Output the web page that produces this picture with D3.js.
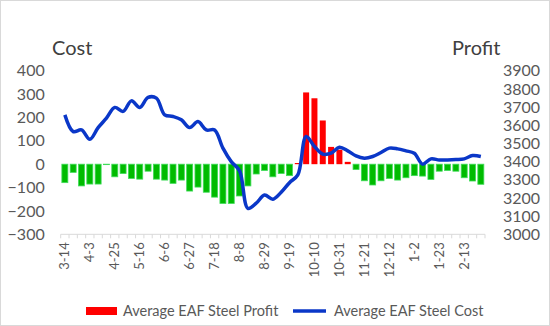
<!DOCTYPE html>
<html lang="en">

<head>
  <meta charset="UTF-8">
  <title>EAF Steel Profit and Cost</title>
  <script src="https://d3js.org/d3.v7.min.js"></script>
  <style>
    body {
      margin: 0;
      background: #fff;
    }

    text {
      font-family: Lato, "Open Sans", sans-serif;
    }

    .tick text {
      fill: #595959;
    }
  </style>
</head>

<body>

  <script>
    // weekly dates (only every third one is labelled)
    const dates = ["3-14", "3-21", "3-28", "4-3", "4-11", "4-18", "4-25", "5-2", "5-9", "5-16",
      "5-23", "5-30", "6-6", "6-13", "6-20", "6-27", "7-4", "7-11", "7-18", "7-25",
      "8-1", "8-8", "8-15", "8-22", "8-29", "9-5", "9-12", "9-19", "9-26", "10-3",
      "10-10", "10-17", "10-24", "10-31", "11-7", "11-14", "11-21", "11-28", "12-5", "12-12",
      "12-19", "12-26", "1-2", "1-9", "1-16", "1-23", "1-30", "2-6", "2-13", "2-20", "2-27"];

    // bars, left axis
    const profit = [-79, -35, -93, -85, -85, -2, -54, -40, -61, -64,
      -30, -64, -68, -82, -68, -115, -98, -120, -141, -168,
      -168, -136, -93, -42, -27, -54, -40, -49, 5, 307,
      282, 187, 74, 62, 10, -23, -71, -89, -71, -61,
      -68, -58, -49, -51, -65, -30, -27, -30, -58, -72, -86];

    // line, right axis
    const cost = [3657, 3565, 3574, 3523, 3587, 3639, 3698, 3676, 3734, 3698,
      3753, 3749, 3657, 3648, 3630, 3587, 3620, 3574, 3574, 3474,
      3400, 3349, 3143, 3171, 3216, 3193, 3231, 3284, 3327, 3538,
      3483, 3441, 3446, 3479, 3459, 3431, 3419, 3428, 3450, 3474,
      3470, 3459, 3446, 3386, 3415, 3409, 3409, 3411, 3415, 3433, 3428];

    const leftTicks = [-300, -200, -100, 0, 100, 200, 300, 400];
    const rightTicks = [3000, 3100, 3200, 3300, 3400, 3500, 3600, 3700, 3800, 3900];

    const W = 550, H = 326;
    const plot = { left: 60.7, right: 485, top: 70.7, bottom: 234.3 };

    const svg = d3.select("body").append("svg")
      .attr("width", W)
      .attr("height", H);

    svg.append("rect")
      .attr("x", 0.5).attr("y", 0.5)
      .attr("width", W - 1).attr("height", H - 1)
      .attr("fill", "#fff")
      .attr("stroke", "#d9d9d9");

    const x = d3.scaleBand()
      .domain(dates)
      .range([plot.left, plot.right])
      .paddingInner(0.28)
      .paddingOuter(0.14);

    const yL = d3.scaleLinear().domain([-300, 400]).range([plot.bottom, plot.top]);
    const yR = d3.scaleLinear().domain([3000, 3900]).range([plot.bottom, plot.top]);

    // left axis (labels only)
    const gL = svg.append("g")
      .attr("transform", `translate(${plot.left},0)`)
      .call(d3.axisLeft(yL).tickValues(leftTicks).tickSize(0).tickPadding(16));
    gL.select(".domain").remove();
    gL.selectAll("text").style("font-size", "16px");

    // right axis (labels only)
    const gR = svg.append("g")
      .attr("transform", `translate(${plot.right},0)`)
      .call(d3.axisRight(yR).tickValues(rightTicks).tickFormat(d3.format("d"))
        .tickSize(0).tickPadding(18));
    gR.select(".domain").remove();
    gR.selectAll("text").style("font-size", "16px");

    // axis titles
    svg.append("text")
      .attr("x", 52).attr("y", 55)
      .attr("fill", "#404040")
      .style("font-size", "20px")
      .text("Cost");
    svg.append("text")
      .attr("x", 452).attr("y", 55)
      .attr("fill", "#404040")
      .style("font-size", "20px")
      .text("Profit");

    // bars
    svg.append("g")
      .selectAll("rect")
      .data(profit)
      .join("rect")
      .attr("x", (d, i) => x(dates[i]))
      .attr("width", x.bandwidth())
      .attr("y", d => Math.min(yL(d), yL(0)))
      .attr("height", d => Math.abs(yL(d) - yL(0)))
      .attr("fill", d => d >= 0 ? "#ff0000" : "#00bb00")
      .attr("stroke", d => d >= 0 ? "none" : "#3fdc5a")
      .attr("stroke-width", 0.8);

    // x axis
    const step = x.step();
    const gX = svg.append("g")
      .attr("transform", `translate(0,${plot.bottom})`);
    gX.append("line")
      .attr("x1", plot.left).attr("x2", plot.right)
      .attr("stroke", "#d9d9d9");
    gX.selectAll(".tk")
      .data(d3.range(dates.length + 1))
      .join("line")
      .attr("class", "tk")
      .attr("x1", i => plot.left + i * step)
      .attr("x2", i => plot.left + i * step)
      .attr("y1", 0).attr("y2", 4)
      .attr("stroke", "#d9d9d9");
    gX.selectAll(".lbl")
      .data(dates.filter((d, i) => i % 3 === 0))
      .join("text")
      .attr("class", "lbl")
      .attr("transform", d => `translate(${x(d) + x.bandwidth() / 2 + 4.5},8) rotate(-90)`)
      .attr("text-anchor", "end")
      .attr("fill", "#595959")
      .style("font-size", "13px")
      .text(d => d);

    // cost line
    const line = d3.line()
      .x((d, i) => x(dates[i]) + x.bandwidth() / 2)
      .y(d => yR(d))
      .curve(d3.curveCatmullRom.alpha(0.5));

    svg.append("path")
      .datum(cost)
      .attr("fill", "none")
      .attr("stroke", "#0a37c8")
      .attr("stroke-width", 3.5)
      .attr("stroke-linejoin", "round")
      .attr("d", line);

    // legend
    const lg = svg.append("g");
    lg.append("rect")
      .attr("x", 86).attr("y", 307)
      .attr("width", 31).attr("height", 8)
      .attr("fill", "#ff0000");
    lg.append("text")
      .attr("x", 123).attr("y", 316)
      .attr("fill", "#595959")
      .style("font-size", "14.5px")
      .text("Average EAF Steel Profit");
    lg.append("line")
      .attr("x1", 293).attr("x2", 326)
      .attr("y1", 311).attr("y2", 311)
      .attr("stroke", "#0a37c8")
      .attr("stroke-width", 3.5);
    lg.append("text")
      .attr("x", 334).attr("y", 316)
      .attr("fill", "#595959")
      .style("font-size", "14.5px")
      .text("Average EAF Steel Cost");
  </script>

</body>

</html>
